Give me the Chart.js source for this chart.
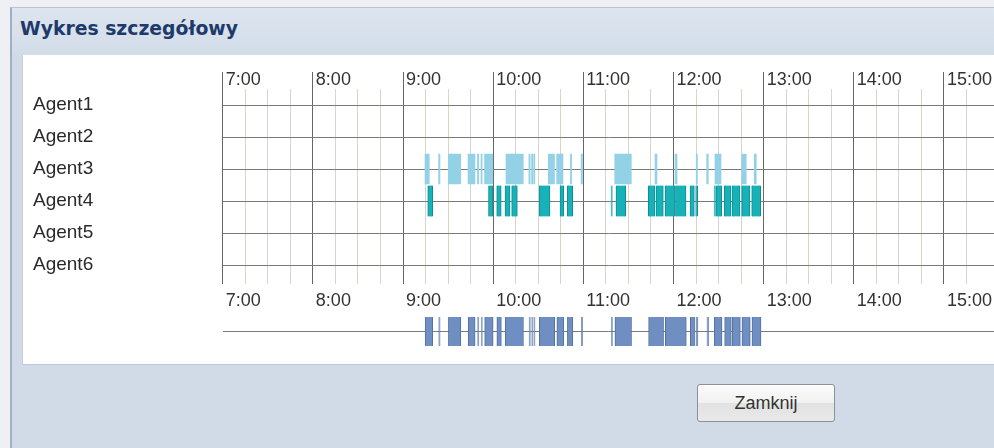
<!DOCTYPE html>
<html>
<head>
<meta charset="utf-8">
<title>Wykres szczegółowy</title>
<script src="https://cdn.jsdelivr.net/npm/chart.js@4.4.1/dist/chart.umd.min.js"></script>
<style>
    html, body {
        margin: 0;
        padding: 0;
        width: 994px;
        height: 448px;
        overflow: hidden;
        background: #eef0f3;
    }
    .panel {
        position: absolute;
        left: 10px;
        top: 7px;
        width: 1000px;
        height: 460px;
        background: #d0dbe7;
        border-left: 2px solid #9fb0c6;
        border-top: 1px solid #b7c4d4;
    }
    .head {
        position: absolute;
        left: 12px;
        top: 8px;
        width: 1000px;
        height: 47px;
        background: linear-gradient(#dde5ef, #d2dce8);
    }
    .title {
        position: absolute;
        left: 20px;
        top: 18px;
        font-family: "DejaVu Sans", sans-serif;
        font-weight: bold;
        font-size: 18.8px;
        color: #1d3a6b;
    }
    .plot {
        position: absolute;
        left: 22px;
        top: 55px;
        width: 990px;
        height: 309px;
        background: #ffffff;
        border-left: 1px solid #c3cfdc;
        border-bottom: 1px solid #b9cadc;
    }
    canvas {
        position: absolute;
    }
    #timelineChart {
        left: 22px;
        top: 55px;
    }
    #summaryChart {
        left: 22px;
        top: 309px;
    }
    .button {
        position: absolute;
        left: 697px;
        top: 384px;
        width: 136px;
        height: 36px;
        border: 1px solid #8d9096;
        border-radius: 3px;
        background: linear-gradient(#fbfbfb, #f1f1f1 50%, #e2e2e2 51%, #e9e9e9);
        font-family: "Liberation Sans", Arial, sans-serif;
        font-size: 18px;
        color: #333333;
        text-align: center;
        line-height: 36px;
    }
</style>
</head>
<body>
<div class="panel"></div>
<div class="head"></div>
<div class="title">Wykres szczegółowy</div>
<div class="plot"></div>
<canvas id="timelineChart" width="980" height="256"></canvas>
<canvas id="summaryChart" width="972" height="45"></canvas>
<div class="button">Zamknij</div>

<script>
//////////////////////* Labels & Data *////////////////////////////
let agents = ["Agent1", "Agent2", "Agent3", "Agent4", "Agent5", "Agent6"];

// hours shown on the time axis
let hourTicks = [7, 8, 9, 10, 11, 12, 13, 14, 15];

// busy periods in decimal hours [start, end]
let agent3Spans = [
    [9.244, 9.291], [9.395, 9.41], [9.502, 9.64], [9.721, 9.798],
    [9.826, 9.84], [9.865, 9.878], [9.904, 9.995], [10.142, 10.334],
    [10.396, 10.41], [10.426, 10.44], [10.45, 10.462], [10.611, 10.68],
    [10.704, 10.774], [10.857, 10.87], [10.975, 10.99], [11.348, 11.532],
    [11.795, 11.817], [12.017, 12.039], [12.252, 12.265], [12.368, 12.386],
    [12.46, 12.527], [12.756, 12.807], [12.896, 12.918]
];

let agent4Spans = [
    [9.274, 9.329], [9.948, 9.998], [10.039, 10.089], [10.131, 10.187],
    [10.205, 10.268], [10.51, 10.63], [10.741, 10.782], [10.821, 10.882],
    [11.307, 11.321], [11.362, 11.47], [11.721, 11.795], [11.806, 11.887],
    [11.906, 12.017], [12.022, 12.139], [12.183, 12.231], [12.246, 12.268],
    [12.45, 12.465], [12.471, 12.535], [12.564, 12.638], [12.649, 12.738],
    [12.756, 12.848], [12.867, 12.967]
];

// all agents together (bottom strip)
let totalSpans = [
    [9.244, 9.329], [9.395, 9.41], [9.502, 9.64], [9.721, 9.798],
    [9.826, 9.84], [9.865, 9.878], [9.904, 9.998], [10.039, 10.089],
    [10.131, 10.334], [10.396, 10.41], [10.426, 10.44], [10.45, 10.462],
    [10.51, 10.68], [10.704, 10.782], [10.821, 10.882], [10.975, 10.99],
    [11.307, 11.321], [11.348, 11.532], [11.721, 11.887], [11.906, 12.139],
    [12.183, 12.231], [12.246, 12.268], [12.368, 12.386], [12.45, 12.535],
    [12.564, 12.638], [12.649, 12.738], [12.756, 12.848], [12.867, 12.967]
];

//////////////////////* Styles *////////////////////////////
let labelFont = "'Liberation Sans', Arial, sans-serif";
let textColor = "#333333";
let hourColor = "#666666";
let rowColor = "#7a7a7a";
let quarterColor = "#d5d5cb";
let agent3Color = "#92d1e6";
let agent4Color = "#17b1b8";
let agent4Border = "#0f8d94";
let totalColor = "#6f8fc2";
let totalBorder = "#52719f";
let timeMin = 7;
let timeMax = 15.577;      // top chart canvas runs a little past the window
let summaryMax = 15.55;

function isHour(value) {
    return hourTicks.indexOf(value) !== -1;
}

function isQuarter(value) {
    return Math.abs(value * 4 - Math.round(value * 4)) < 1e-6;
}

function hourLabel(value) {
    return isHour(value) ? value + ":00" : "";
}

function spansFor(spans, row) {
    return spans.map(function (s) {
        return { x: s, y: row };
    });
}

//////////////////////* Intialize *////////////////////////////
document.addEventListener("DOMContentLoaded", function () {
    timelineChart();
    summaryChart();
});

//////////////////////* Agents timeline *////////////////////////////
function timelineChart() {
    let ctx = document.getElementById("timelineChart");
    let data = {
        labels: agents,
        datasets: [
            {
                label: "Agent3",
                data: spansFor(agent3Spans, "Agent3"),
                backgroundColor: agent3Color,
                borderWidth: 0,
                barThickness: 30,
                grouped: false,
                xAxisID: "x",
            },
            {
                label: "Agent4",
                data: spansFor(agent4Spans, "Agent4"),
                backgroundColor: agent4Color,
                borderColor: agent4Border,
                borderWidth: { left: 1, right: 1, top: 0, bottom: 0 },
                borderSkipped: false,
                barThickness: 31,
                grouped: false,
                xAxisID: "x",
            },
        ],
    };
    let config = {
        type: "bar",
        data: data,
        options: {
            indexAxis: "y",
            responsive: false,
            animation: false,
            devicePixelRatio: 1,
            layout: {
                padding: { left: 11, right: 0, top: 0, bottom: 0 },
            },
            plugins: {
                legend: { display: false },
                tooltip: { enabled: false },
            },
            scales: {
                x: {
                    type: "linear",
                    position: "top",
                    min: timeMin,
                    max: timeMax,
                    afterFit: function (scale) {
                        scale.height = 34;
                    },
                    ticks: {
                        stepSize: 0.25,
                        autoSkip: false,
                        maxRotation: 0,
                        minRotation: 0,
                        align: "start",
                        labelOffset: 3,
                        padding: -19,
                        color: textColor,
                        font: { family: labelFont, size: 18 },
                        callback: hourLabel,
                    },
                    grid: {
                        tickLength: 17,
                        color: function (c) {
                            if (isHour(c.tick.value)) return hourColor;
                            return isQuarter(c.tick.value) ? quarterColor : "rgba(0,0,0,0)";
                        },
                        tickColor: function (c) {
                            return isHour(c.tick.value) ? hourColor : "rgba(0,0,0,0)";
                        },
                    },
                    border: { display: false },
                },
                x2: {
                    type: "linear",
                    position: "bottom",
                    min: timeMin,
                    max: timeMax,
                    afterFit: function (scale) {
                        scale.height = 30;
                    },
                    ticks: {
                        stepSize: 0.25,
                        autoSkip: false,
                        maxRotation: 0,
                        minRotation: 0,
                        align: "start",
                        labelOffset: 3,
                        padding: 6,
                        color: textColor,
                        font: { family: labelFont, size: 18 },
                        callback: hourLabel,
                    },
                    grid: {
                        drawOnChartArea: false,
                        tickLength: 3,
                        tickColor: function (c) {
                            if (isHour(c.tick.value)) return hourColor;
                            return isQuarter(c.tick.value) ? quarterColor : "rgba(0,0,0,0)";
                        },
                    },
                    border: { display: false },
                },
                y: {
                    type: "category",
                    offset: true,
                    afterFit: function (scale) {
                        scale.width = 189.7;
                    },
                    ticks: {
                        crossAlign: "far",
                        color: "#2a2a2a",
                        font: { family: labelFont, size: 19 },
                    },
                    grid: {
                        offset: false,
                        drawTicks: false,
                        color: rowColor,
                    },
                    border: {
                        display: true,
                        color: hourColor,
                    },
                },
            },
        },
    };
    let chart = new Chart(ctx, config);
}

//////////////////////* All agents strip *////////////////////////////
function summaryChart() {
    let ctx = document.getElementById("summaryChart");
    let data = {
        labels: ["Razem"],
        datasets: [
            {
                label: "Razem",
                data: spansFor(totalSpans, "Razem"),
                backgroundColor: totalColor,
                borderColor: totalBorder,
                borderWidth: { left: 1, right: 1, top: 0, bottom: 0 },
                borderSkipped: false,
                barThickness: 29,
            },
        ],
    };
    let config = {
        type: "bar",
        data: data,
        options: {
            indexAxis: "y",
            responsive: false,
            animation: false,
            devicePixelRatio: 1,
            layout: {
                padding: { left: 200.7, right: 0, top: 0, bottom: 0 },
            },
            plugins: {
                legend: { display: false },
                tooltip: { enabled: false },
            },
            scales: {
                x: {
                    type: "linear",
                    display: false,
                    min: timeMin,
                    max: summaryMax,
                },
                y: {
                    type: "category",
                    offset: true,
                    afterFit: function (scale) {
                        scale.width = 0;
                    },
                    ticks: { display: false },
                    grid: {
                        offset: false,
                        drawTicks: false,
                        color: "#7a7a7a",
                    },
                    border: { display: false },
                },
            },
        },
    };
    let chart = new Chart(ctx, config);
}
</script>
</body>
</html>
